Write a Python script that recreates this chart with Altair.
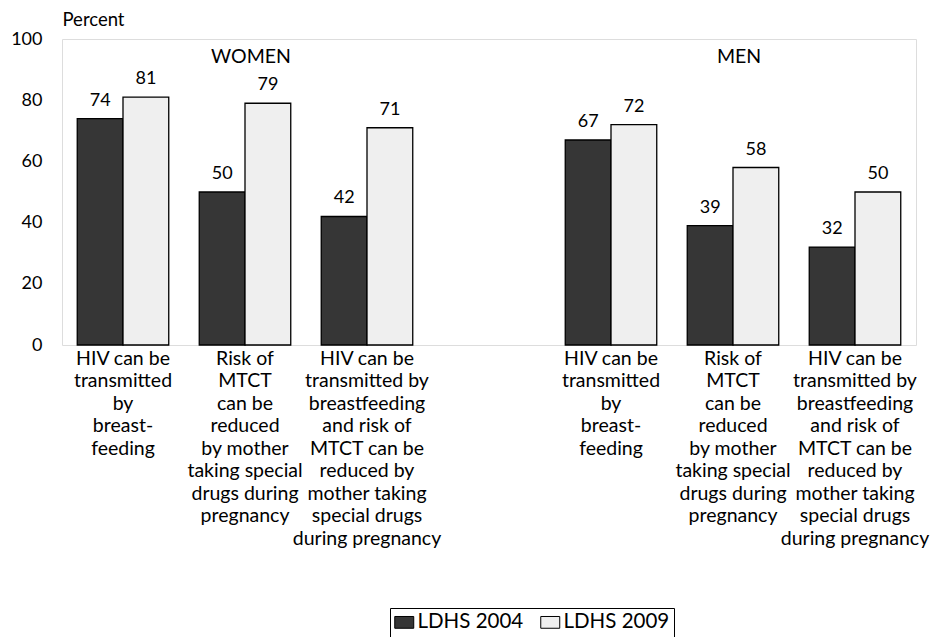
import altair as alt
import pandas as pd

# ---- data ----
slot_keys = ["W1", "W2", "W3", "GAP", "M1", "M2", "M3"]
slot_labels = [
    ["HIV can be", "transmitted", "by", "breast-", "feeding"],
    ["Risk of", "MTCT", "can be", "reduced", "by mother", "taking special", "drugs during", "pregnancy"],
    ["HIV can be", "transmitted by", "breastfeeding", "and risk of", "MTCT can be", "reduced by",
     "mother taking", "special drugs", "during pregnancy"],
    [""],
    ["HIV can be", "transmitted", "by", "breast-", "feeding"],
    ["Risk of", "MTCT", "can be", "reduced", "by mother", "taking special", "drugs during", "pregnancy"],
    ["HIV can be", "transmitted by", "breastfeeding", "and risk of", "MTCT can be", "reduced by",
     "mother taking", "special drugs", "during pregnancy"],
]
categories = ["W1", "W2", "W3", "M1", "M2", "M3"]
series = ["LDHS 2004", "LDHS 2009"]
values_2004 = [74, 50, 42, 67, 39, 32]
values_2009 = [81, 79, 71, 72, 58, 50]

group_titles = ["WOMEN", "MEN"]
group_title_slots = ["W2", "M2"]
group_title_y = [94, 94]

rows = []
for c, v in zip(categories, values_2004):
    rows.append({"cat": c, "year": series[0], "value": v})
for c, v in zip(categories, values_2009):
    rows.append({"cat": c, "year": series[1], "value": v})
df = pd.DataFrame(rows)
titles_df = pd.DataFrame({"cat": group_title_slots, "title": group_titles, "y": group_title_y})

FONT = "Lato"

def js_str(s):
    return "'" + s.replace("'", "\\'") + "'"

label_expr = "[" + ",".join("[" + ",".join(js_str(l) for l in lines) + "]" for lines in slot_labels) + "]" \
    + "[indexof([" + ",".join(js_str(k) for k in slot_keys) + "], datum.value)]"

x_enc = alt.X(
    "cat:N",
    scale=alt.Scale(domain=slot_keys, paddingInner=0.25, paddingOuter=0.125),
    sort=slot_keys,
    axis=alt.Axis(
        title=None, labelAngle=0, ticks=False, domain=False, labelPadding=4,
        labelBaseline="top", labelExpr=label_expr, labelFont=FONT, labelFontSize=19.5,
        labelLineHeight=22.5, labelColor="black", labelLimit=300, labelOverlap=False,
    ),
)
xoff_enc = alt.XOffset("year:N", scale=alt.Scale(domain=series, paddingInner=0, paddingOuter=0))
y_enc = alt.Y(
    "value:Q",
    scale=alt.Scale(domain=[0, 100], nice=False),
    axis=alt.Axis(
        values=[0, 20, 40, 60, 80, 100], grid=False, ticks=False, domain=False,
        labelPadding=20, labelFont=FONT, labelFontSize=18, labelColor="black",
        title="Percent", titleAngle=0, titleAlign="left", titleX=0, titleY=-20,
        titleBaseline="middle", titleFont=FONT, titleFontSize=18.5, titleFontWeight="normal",
        titleColor="black",
    ),
)

bars = alt.Chart(df).mark_bar(stroke="black", strokeWidth=1.3).encode(
    x=x_enc,
    xOffset=xoff_enc,
    y=y_enc,
    fill=alt.Fill(
        "year:N",
        scale=alt.Scale(domain=series, range=["#363636", "#efefef"]),
        legend=alt.Legend(
            title=None, orient="none", legendX=328, legendY=569, direction="horizontal",
            strokeColor="black", padding=4, symbolType="M-1,-0.62H1V0.62H-1Z", symbolSize=360,
            symbolStrokeColor="black", symbolStrokeWidth=1, labelFont=FONT,
            labelFontSize=20.5, labelColor="black", columnPadding=14, labelOffset=3,
        ),
    ),
)

value_labels = alt.Chart(df).mark_text(
    baseline="bottom", dy=-9, font=FONT, fontSize=18, color="black"
).encode(
    x=alt.X("cat:N", sort=slot_keys),
    xOffset=alt.XOffset("year:N"),
    y=alt.Y("value:Q"),
    text=alt.Text("value:Q"),
)

group_text = alt.Chart(titles_df).mark_text(
    baseline="middle", dx=6, font=FONT, fontSize=19.5, color="black"
).encode(
    x=alt.X("cat:N", sort=slot_keys),
    y=alt.Y("y:Q"),
    text="title:N",
)

chart = alt.layer(bars, value_labels, group_text).properties(
    width=854, height=306,
    padding={"left": 2, "top": 2, "right": 5, "bottom": 0},
).configure_view(
    stroke="black", strokeWidth=1.5
).configure(background="white")

chart.save("out.html", embed_options={"renderer": "svg", "actions": False})
